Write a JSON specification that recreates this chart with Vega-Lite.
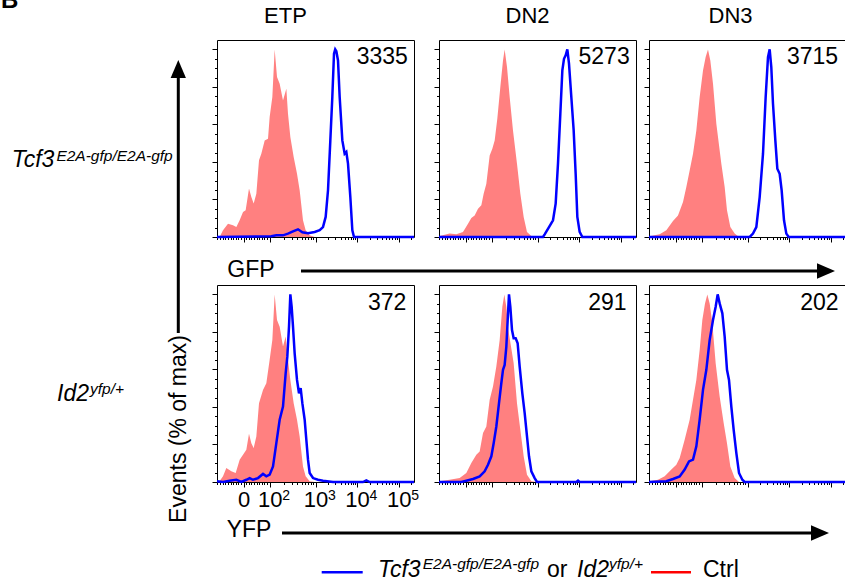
{
"$schema": "https://vega.github.io/schema/vega-lite/v6.json",
"background": "white",
"padding": 0,
"autosize": {"type": "pad"},
"config": {"font": "Liberation Sans", "view": {"stroke": "#000", "strokeWidth": 1}, "text": {"color": "#000"}, "axis": {"domain": false, "grid": false, "title": null, "tickColor": "#000", "tickWidth": 1, "labelColor": "#000"}},
"datasets": {
"labels": [{"p":"t1","label":"3335"},{"p":"t2","label":"5273"},{"p":"t3","label":"3715"},{"p":"b1","label":"372"},{"p":"b2","label":"291"},{"p":"b3","label":"202"}],
"hist": [
{"p":"t1","s":"c","x":13.5,"y":0},{"p":"t1","s":"c","x":30.5,"y":3.6},{"p":"t1","s":"c","x":55.8,"y":7.1},{"p":"t1","s":"c","x":81.2,"y":6.2},{"p":"t1","s":"c","x":98.1,"y":5.3},{"p":"t1","s":"c","x":115,"y":8.9},{"p":"t1","s":"c","x":132,"y":13.3},{"p":"t1","s":"c","x":145.5,"y":14.2},{"p":"t1","s":"c","x":162.4,"y":25.8},{"p":"t1","s":"c","x":174.3,"y":21.3},{"p":"t1","s":"c","x":186.1,"y":17.8},{"p":"t1","s":"c","x":199.7,"y":23.1},{"p":"t1","s":"c","x":213.2,"y":40.9},{"p":"t1","s":"c","x":225,"y":44.4},{"p":"t1","s":"c","x":242,"y":51.5},{"p":"t1","s":"c","x":258.9,"y":52.4},{"p":"t1","s":"c","x":267.3,"y":63.9},{"p":"t1","s":"c","x":280.9,"y":74.6},{"p":"t1","s":"c","x":292.7,"y":100},{"p":"t1","s":"c","x":304.6,"y":85.3},{"p":"t1","s":"c","x":318.1,"y":81.7},{"p":"t1","s":"c","x":335,"y":72.8},{"p":"t1","s":"c","x":352,"y":79},{"p":"t1","s":"c","x":360.4,"y":65.7},{"p":"t1","s":"c","x":372.3,"y":53.3},{"p":"t1","s":"c","x":389.2,"y":42.6},{"p":"t1","s":"c","x":406.1,"y":33.7},{"p":"t1","s":"c","x":419.6,"y":24.9},{"p":"t1","s":"c","x":436.5,"y":8.9},{"p":"t1","s":"c","x":450,"y":3.6},{"p":"t1","s":"c","x":470.4,"y":0.9},{"p":"t1","s":"c","x":495.8,"y":0},
{"p":"t1","s":"k","x":0,"y":0},{"p":"t1","s":"k","x":275.8,"y":0.4},{"p":"t1","s":"k","x":301.2,"y":0.9},{"p":"t1","s":"k","x":335,"y":0.9},{"p":"t1","s":"k","x":360.4,"y":1.8},{"p":"t1","s":"k","x":385.8,"y":3.0},{"p":"t1","s":"k","x":411.2,"y":4.1},{"p":"t1","s":"k","x":433.2,"y":2.5},{"p":"t1","s":"k","x":462,"y":2.0},{"p":"t1","s":"k","x":495.8,"y":2.7},{"p":"t1","s":"k","x":521.2,"y":3.6},{"p":"t1","s":"k","x":538,"y":5.3},{"p":"t1","s":"k","x":551.6,"y":10.7},{"p":"t1","s":"k","x":563.5,"y":24.9},{"p":"t1","s":"k","x":575.3,"y":51.5},{"p":"t1","s":"k","x":585.4,"y":74.6},{"p":"t1","s":"k","x":593.9,"y":97.7},{"p":"t1","s":"k","x":600,"y":100},{"p":"t1","s":"k","x":605.8,"y":99},{"p":"t1","s":"k","x":614.2,"y":94.1},{"p":"t1","s":"k","x":622.7,"y":74.6},{"p":"t1","s":"k","x":636.2,"y":51.5},{"p":"t1","s":"k","x":648,"y":44.4},{"p":"t1","s":"k","x":656.5,"y":45.3},{"p":"t1","s":"k","x":665,"y":39.1},{"p":"t1","s":"k","x":676.8,"y":21.3},{"p":"t1","s":"k","x":687,"y":3.6},{"p":"t1","s":"k","x":695.4,"y":0},{"p":"t1","s":"k","x":1000,"y":0},
{"p":"t2","s":"c","x":0,"y":0},{"p":"t2","s":"c","x":3.4,"y":0.5},{"p":"t2","s":"c","x":54.1,"y":1.8},{"p":"t2","s":"c","x":88,"y":1.4},{"p":"t2","s":"c","x":121.8,"y":2.7},{"p":"t2","s":"c","x":147.2,"y":7.1},{"p":"t2","s":"c","x":164.1,"y":10.1},{"p":"t2","s":"c","x":181,"y":11.5},{"p":"t2","s":"c","x":198,"y":15.1},{"p":"t2","s":"c","x":214.9,"y":16.9},{"p":"t2","s":"c","x":226.7,"y":23.1},{"p":"t2","s":"c","x":240.3,"y":28.4},{"p":"t2","s":"c","x":257.2,"y":43.5},{"p":"t2","s":"c","x":270.7,"y":47.1},{"p":"t2","s":"c","x":282.6,"y":51.5},{"p":"t2","s":"c","x":296.1,"y":63.1},{"p":"t2","s":"c","x":311.3,"y":79.9},{"p":"t2","s":"c","x":324.9,"y":94.1},{"p":"t2","s":"c","x":333.3,"y":100},{"p":"t2","s":"c","x":345.2,"y":90.6},{"p":"t2","s":"c","x":358.7,"y":74.6},{"p":"t2","s":"c","x":375.6,"y":56.8},{"p":"t2","s":"c","x":395.9,"y":39.1},{"p":"t2","s":"c","x":412.9,"y":23.1},{"p":"t2","s":"c","x":429.8,"y":10.7},{"p":"t2","s":"c","x":446.7,"y":2.7},{"p":"t2","s":"c","x":468.7,"y":0.5},{"p":"t2","s":"c","x":494.1,"y":0},
{"p":"t2","s":"k","x":0,"y":0},{"p":"t2","s":"k","x":527.9,"y":0},{"p":"t2","s":"k","x":536.4,"y":1.4},{"p":"t2","s":"k","x":558.4,"y":5.3},{"p":"t2","s":"k","x":578.7,"y":8.9},{"p":"t2","s":"k","x":592.2,"y":17.8},{"p":"t2","s":"k","x":604,"y":39.1},{"p":"t2","s":"k","x":615.9,"y":65.7},{"p":"t2","s":"k","x":626.1,"y":88.8},{"p":"t2","s":"k","x":634.5,"y":95},{"p":"t2","s":"k","x":643,"y":96.8},{"p":"t2","s":"k","x":651.4,"y":100},{"p":"t2","s":"k","x":659.9,"y":92.4},{"p":"t2","s":"k","x":671.7,"y":74.6},{"p":"t2","s":"k","x":683.6,"y":56.8},{"p":"t2","s":"k","x":693.7,"y":33.7},{"p":"t2","s":"k","x":702.2,"y":10.7},{"p":"t2","s":"k","x":714,"y":2.7},{"p":"t2","s":"k","x":727.6,"y":0},{"p":"t2","s":"k","x":1000,"y":0},
{"p":"t3","s":"c","x":0,"y":0},{"p":"t3","s":"c","x":3.4,"y":0.4},{"p":"t3","s":"c","x":54.1,"y":1.4},{"p":"t3","s":"c","x":88,"y":3.6},{"p":"t3","s":"c","x":121.8,"y":8.5},{"p":"t3","s":"c","x":147.2,"y":11.5},{"p":"t3","s":"c","x":172.6,"y":18.7},{"p":"t3","s":"c","x":189.5,"y":26.6},{"p":"t3","s":"c","x":206.4,"y":35.5},{"p":"t3","s":"c","x":223.4,"y":44.4},{"p":"t3","s":"c","x":240.3,"y":56.8},{"p":"t3","s":"c","x":257.2,"y":74.6},{"p":"t3","s":"c","x":274.1,"y":88.8},{"p":"t3","s":"c","x":287.6,"y":95.9},{"p":"t3","s":"c","x":299.5,"y":100},{"p":"t3","s":"c","x":311.3,"y":94.1},{"p":"t3","s":"c","x":324.9,"y":81.7},{"p":"t3","s":"c","x":341.8,"y":60.4},{"p":"t3","s":"c","x":367.2,"y":39.1},{"p":"t3","s":"c","x":384.1,"y":26.6},{"p":"t3","s":"c","x":395.9,"y":14.2},{"p":"t3","s":"c","x":412.9,"y":5.3},{"p":"t3","s":"c","x":434.9,"y":1.8},{"p":"t3","s":"c","x":456.9,"y":0},
{"p":"t3","s":"k","x":0,"y":0},{"p":"t3","s":"k","x":511,"y":0},{"p":"t3","s":"k","x":527.9,"y":1.8},{"p":"t3","s":"k","x":544.8,"y":5.3},{"p":"t3","s":"k","x":561.8,"y":21.3},{"p":"t3","s":"k","x":578.7,"y":44.4},{"p":"t3","s":"k","x":592.2,"y":74.6},{"p":"t3","s":"k","x":604,"y":95.9},{"p":"t3","s":"k","x":612.5,"y":100},{"p":"t3","s":"k","x":620.8,"y":90.6},{"p":"t3","s":"k","x":629.4,"y":71},{"p":"t3","s":"k","x":641.3,"y":51.5},{"p":"t3","s":"k","x":651.4,"y":36.4},{"p":"t3","s":"k","x":663.3,"y":33.7},{"p":"t3","s":"k","x":673.4,"y":24.9},{"p":"t3","s":"k","x":685.3,"y":8.9},{"p":"t3","s":"k","x":697.1,"y":1.8},{"p":"t3","s":"k","x":709,"y":0},{"p":"t3","s":"k","x":1000,"y":0},
{"p":"b1","s":"c","x":0,"y":0},{"p":"b1","s":"c","x":10.2,"y":0},{"p":"b1","s":"c","x":30.5,"y":3},{"p":"b1","s":"c","x":47.4,"y":7.4},{"p":"b1","s":"c","x":72.8,"y":5.7},{"p":"b1","s":"c","x":94.8,"y":4.8},{"p":"b1","s":"c","x":115.1,"y":11.9},{"p":"b1","s":"c","x":132,"y":14.5},{"p":"b1","s":"c","x":148.9,"y":17.2},{"p":"b1","s":"c","x":162.4,"y":25.7},{"p":"b1","s":"c","x":174.3,"y":20.7},{"p":"b1","s":"c","x":186.1,"y":18.1},{"p":"b1","s":"c","x":199.7,"y":24.3},{"p":"b1","s":"c","x":213.2,"y":42},{"p":"b1","s":"c","x":233.5,"y":49.1},{"p":"b1","s":"c","x":250.4,"y":52.7},{"p":"b1","s":"c","x":267.3,"y":65.1},{"p":"b1","s":"c","x":280.9,"y":75.7},{"p":"b1","s":"c","x":292.7,"y":100},{"p":"b1","s":"c","x":304.6,"y":86.3},{"p":"b1","s":"c","x":318.1,"y":82.8},{"p":"b1","s":"c","x":335,"y":72.2},{"p":"b1","s":"c","x":348.6,"y":77.5},{"p":"b1","s":"c","x":360.4,"y":65.1},{"p":"b1","s":"c","x":372.3,"y":54.4},{"p":"b1","s":"c","x":389.2,"y":42},{"p":"b1","s":"c","x":406.1,"y":33.2},{"p":"b1","s":"c","x":419.6,"y":24.3},{"p":"b1","s":"c","x":436.5,"y":8.3},{"p":"b1","s":"c","x":450,"y":3},{"p":"b1","s":"c","x":470.4,"y":0.4},{"p":"b1","s":"c","x":495.8,"y":0},
{"p":"b1","s":"k","x":0,"y":0.4},{"p":"b1","s":"k","x":30.5,"y":0},{"p":"b1","s":"k","x":64.3,"y":0.7},{"p":"b1","s":"k","x":98.1,"y":1.2},{"p":"b1","s":"k","x":123.5,"y":0},{"p":"b1","s":"k","x":148.9,"y":1.2},{"p":"b1","s":"k","x":165.8,"y":2.1},{"p":"b1","s":"k","x":182.7,"y":1.2},{"p":"b1","s":"k","x":208.1,"y":2.1},{"p":"b1","s":"k","x":233.5,"y":4.3},{"p":"b1","s":"k","x":250.4,"y":3},{"p":"b1","s":"k","x":267.3,"y":3.9},{"p":"b1","s":"k","x":284.3,"y":8.3},{"p":"b1","s":"k","x":301.2,"y":20.7},{"p":"b1","s":"k","x":318.1,"y":33.2},{"p":"b1","s":"k","x":335,"y":40.2},{"p":"b1","s":"k","x":348.6,"y":58},{"p":"b1","s":"k","x":357,"y":66.8},{"p":"b1","s":"k","x":365.5,"y":82.8},{"p":"b1","s":"k","x":372.3,"y":100},{"p":"b1","s":"k","x":379,"y":93.4},{"p":"b1","s":"k","x":385.8,"y":82.8},{"p":"b1","s":"k","x":394.2,"y":68.6},{"p":"b1","s":"k","x":406.1,"y":54.4},{"p":"b1","s":"k","x":416.2,"y":47.3},{"p":"b1","s":"k","x":424.7,"y":50},{"p":"b1","s":"k","x":433.2,"y":42},{"p":"b1","s":"k","x":445,"y":33.2},{"p":"b1","s":"k","x":453.5,"y":22.5},{"p":"b1","s":"k","x":461.9,"y":11.9},{"p":"b1","s":"k","x":470.4,"y":4.8},{"p":"b1","s":"k","x":487.3,"y":2.1},{"p":"b1","s":"k","x":512.7,"y":1.2},{"p":"b1","s":"k","x":538.1,"y":0.7},{"p":"b1","s":"k","x":588.8,"y":0},{"p":"b1","s":"k","x":741.1,"y":0},{"p":"b1","s":"k","x":758,"y":0.9},{"p":"b1","s":"k","x":775,"y":0},{"p":"b1","s":"k","x":1000,"y":0},
{"p":"b2","s":"c","x":0,"y":0},{"p":"b2","s":"c","x":3.4,"y":0.4},{"p":"b2","s":"c","x":54.1,"y":1.2},{"p":"b2","s":"c","x":104.9,"y":2.1},{"p":"b2","s":"c","x":138.7,"y":4.8},{"p":"b2","s":"c","x":164.1,"y":10.1},{"p":"b2","s":"c","x":189.5,"y":14.5},{"p":"b2","s":"c","x":206.4,"y":16.3},{"p":"b2","s":"c","x":223.4,"y":26.1},{"p":"b2","s":"c","x":240.3,"y":29.6},{"p":"b2","s":"c","x":257.2,"y":43.8},{"p":"b2","s":"c","x":274.1,"y":50.9},{"p":"b2","s":"c","x":291,"y":61.5},{"p":"b2","s":"c","x":308,"y":75.7},{"p":"b2","s":"c","x":321.5,"y":93.4},{"p":"b2","s":"c","x":331.6,"y":100},{"p":"b2","s":"c","x":341.8,"y":93.4},{"p":"b2","s":"c","x":351.9,"y":81},{"p":"b2","s":"c","x":365.5,"y":72.2},{"p":"b2","s":"c","x":379,"y":63.3},{"p":"b2","s":"c","x":395.9,"y":42},{"p":"b2","s":"c","x":412.9,"y":27.8},{"p":"b2","s":"c","x":429.8,"y":13.7},{"p":"b2","s":"c","x":446.7,"y":3.9},{"p":"b2","s":"c","x":468.7,"y":0.4},{"p":"b2","s":"c","x":494.1,"y":0},
{"p":"b2","s":"k","x":0,"y":0},{"p":"b2","s":"k","x":113.4,"y":0},{"p":"b2","s":"k","x":138.7,"y":0.7},{"p":"b2","s":"k","x":172.6,"y":1.6},{"p":"b2","s":"k","x":206.4,"y":3},{"p":"b2","s":"k","x":231.8,"y":5.7},{"p":"b2","s":"k","x":248.7,"y":9.2},{"p":"b2","s":"k","x":265.7,"y":13.7},{"p":"b2","s":"k","x":277.5,"y":20.7},{"p":"b2","s":"k","x":291,"y":29.6},{"p":"b2","s":"k","x":304.6,"y":42},{"p":"b2","s":"k","x":316.4,"y":52.7},{"p":"b2","s":"k","x":324.9,"y":59.8},{"p":"b2","s":"k","x":333.3,"y":62.4},{"p":"b2","s":"k","x":341.8,"y":72.2},{"p":"b2","s":"k","x":348.6,"y":86.3},{"p":"b2","s":"k","x":355.3,"y":100},{"p":"b2","s":"k","x":362.1,"y":93.4},{"p":"b2","s":"k","x":370.6,"y":81},{"p":"b2","s":"k","x":379,"y":76.6},{"p":"b2","s":"k","x":389.2,"y":76.6},{"p":"b2","s":"k","x":399.3,"y":73.9},{"p":"b2","s":"k","x":409.5,"y":61.5},{"p":"b2","s":"k","x":423,"y":47.3},{"p":"b2","s":"k","x":434.9,"y":36.7},{"p":"b2","s":"k","x":446.7,"y":24.3},{"p":"b2","s":"k","x":456.9,"y":13.7},{"p":"b2","s":"k","x":468.7,"y":5.7},{"p":"b2","s":"k","x":485.6,"y":2.1},{"p":"b2","s":"k","x":497.5,"y":0},{"p":"b2","s":"k","x":697.1,"y":0},{"p":"b2","s":"k","x":705.6,"y":0.7},{"p":"b2","s":"k","x":714,"y":0},{"p":"b2","s":"k","x":1000,"y":0},
{"p":"b3","s":"c","x":0,"y":0},{"p":"b3","s":"c","x":3.4,"y":0.4},{"p":"b3","s":"c","x":45.7,"y":1.2},{"p":"b3","s":"c","x":79.5,"y":3},{"p":"b3","s":"c","x":113.4,"y":6.6},{"p":"b3","s":"c","x":138.7,"y":9.2},{"p":"b3","s":"c","x":155.7,"y":12.8},{"p":"b3","s":"c","x":181,"y":22.5},{"p":"b3","s":"c","x":206.4,"y":33.2},{"p":"b3","s":"c","x":223.4,"y":43.8},{"p":"b3","s":"c","x":240.3,"y":54.4},{"p":"b3","s":"c","x":257.2,"y":70.4},{"p":"b3","s":"c","x":270.7,"y":86.3},{"p":"b3","s":"c","x":284.3,"y":95.2},{"p":"b3","s":"c","x":296.1,"y":100},{"p":"b3","s":"c","x":308,"y":95.2},{"p":"b3","s":"c","x":321.5,"y":84.6},{"p":"b3","s":"c","x":338.4,"y":63.3},{"p":"b3","s":"c","x":358.7,"y":45.6},{"p":"b3","s":"c","x":379,"y":31.4},{"p":"b3","s":"c","x":395.9,"y":20.7},{"p":"b3","s":"c","x":412.9,"y":8.3},{"p":"b3","s":"c","x":434.9,"y":2.1},{"p":"b3","s":"c","x":456.9,"y":0},
{"p":"b3","s":"k","x":0,"y":0},{"p":"b3","s":"k","x":88,"y":0.4},{"p":"b3","s":"k","x":121.8,"y":1.6},{"p":"b3","s":"k","x":155.7,"y":3},{"p":"b3","s":"k","x":181,"y":6.6},{"p":"b3","s":"k","x":203,"y":11},{"p":"b3","s":"k","x":223.4,"y":11.9},{"p":"b3","s":"k","x":240.3,"y":19},{"p":"b3","s":"k","x":257.2,"y":33.2},{"p":"b3","s":"k","x":274.1,"y":49.1},{"p":"b3","s":"k","x":291,"y":59.8},{"p":"b3","s":"k","x":308,"y":75.7},{"p":"b3","s":"k","x":324.9,"y":86.3},{"p":"b3","s":"k","x":338.4,"y":93.4},{"p":"b3","s":"k","x":348.6,"y":100},{"p":"b3","s":"k","x":358.7,"y":95.2},{"p":"b3","s":"k","x":372.3,"y":89.9},{"p":"b3","s":"k","x":384.1,"y":77.5},{"p":"b3","s":"k","x":395.9,"y":59.8},{"p":"b3","s":"k","x":406.1,"y":54.4},{"p":"b3","s":"k","x":417.9,"y":40.2},{"p":"b3","s":"k","x":429.8,"y":27.8},{"p":"b3","s":"k","x":443.4,"y":15.4},{"p":"b3","s":"k","x":456.9,"y":4.8},{"p":"b3","s":"k","x":473.8,"y":1.2},{"p":"b3","s":"k","x":485.6,"y":0},{"p":"b3","s":"k","x":1000,"y":0}
]},
"hconcat": [
{
"width": 200, "height": 583,
"view": {"stroke": null, "fill": "white"},
"data": {"values": [{}]},
"layer": [
{"mark": {"type": "text", "text": "B", "fontSize": 24, "fontWeight": "bold", "align": "left", "baseline": "alphabetic", "clip": true}, "encoding": {"x": {"datum": 1, "type": "quantitative", "scale": {"domain": [0, 200], "nice": false, "zero": false}, "axis": null}, "y": {"datum": 8, "type": "quantitative", "scale": {"domain": [0, 583], "nice": false, "zero": false, "reverse": true}, "axis": null}}},
{"mark": {"type": "text", "text": "Tcf3", "fontSize": 23, "fontStyle": "italic", "align": "left", "baseline": "alphabetic"}, "encoding": {"x": {"datum": 11.7, "type": "quantitative", "axis": null}, "y": {"datum": 167.3, "type": "quantitative", "axis": null}}},
{"mark": {"type": "text", "text": "E2A-gfp/E2A-gfp", "fontSize": 15.5, "fontStyle": "italic", "align": "left", "baseline": "alphabetic"}, "encoding": {"x": {"datum": 56.4, "type": "quantitative", "axis": null}, "y": {"datum": 160.5, "type": "quantitative", "axis": null}}},
{"mark": {"type": "text", "text": "Id2", "fontSize": 23, "fontStyle": "italic", "align": "left", "baseline": "alphabetic"}, "encoding": {"x": {"datum": 57, "type": "quantitative", "axis": null}, "y": {"datum": 400.7, "type": "quantitative", "axis": null}}},
{"mark": {"type": "text", "text": "yfp/+", "fontSize": 15.5, "fontStyle": "italic", "align": "left", "baseline": "alphabetic"}, "encoding": {"x": {"datum": 90, "type": "quantitative", "axis": null}, "y": {"datum": 394, "type": "quantitative", "axis": null}}},
{"mark": {"type": "rule", "color": "#000", "strokeWidth": 3}, "encoding": {"x": {"datum": 178.3, "type": "quantitative", "axis": null}, "y": {"datum": 76, "type": "quantitative", "axis": null}, "y2": {"datum": 333}}},
{"mark": {"type": "point", "shape": "M-0.85,1L0,-1L0.85,1Z", "size": 324, "filled": true, "color": "#000", "opacity": 1}, "encoding": {"x": {"datum": 178.3, "type": "quantitative", "axis": null}, "y": {"datum": 69, "type": "quantitative", "axis": null}}},
{"mark": {"type": "text", "text": "Events (% of max)", "fontSize": 23, "angle": 270, "align": "center", "baseline": "middle"}, "encoding": {"x": {"datum": 178.5, "type": "quantitative", "axis": null}, "y": {"datum": 429, "type": "quantitative", "axis": null}}},
{"mark": {"type": "text", "text": "GFP", "fontSize": 23, "align": "center", "baseline": "alphabetic"}, "encoding": {"x": {"datum": 251, "type": "quantitative", "axis": null}, "y": {"datum": 277, "type": "quantitative", "axis": null}}},
{"mark": {"type": "rule", "color": "#000", "strokeWidth": 3}, "encoding": {"x": {"datum": 301, "type": "quantitative", "axis": null}, "x2": {"datum": 820}, "y": {"datum": 271, "type": "quantitative", "axis": null}}},
{"mark": {"type": "point", "shape": "M-1,-0.85L1,0L-1,0.85Z", "size": 324, "filled": true, "color": "#000", "opacity": 1}, "encoding": {"x": {"datum": 826, "type": "quantitative", "axis": null}, "y": {"datum": 271, "type": "quantitative", "axis": null}}},
{"mark": {"type": "text", "text": "YFP", "fontSize": 23, "align": "center", "baseline": "alphabetic"}, "encoding": {"x": {"datum": 249, "type": "quantitative", "axis": null}, "y": {"datum": 537, "type": "quantitative", "axis": null}}},
{"mark": {"type": "rule", "color": "#000", "strokeWidth": 3}, "encoding": {"x": {"datum": 282, "type": "quantitative", "axis": null}, "x2": {"datum": 813}, "y": {"datum": 533, "type": "quantitative", "axis": null}}},
{"mark": {"type": "point", "shape": "M-1,-0.85L1,0L-1,0.85Z", "size": 324, "filled": true, "color": "#000", "opacity": 1}, "encoding": {"x": {"datum": 820, "type": "quantitative", "axis": null}, "y": {"datum": 533, "type": "quantitative", "axis": null}}},
{"mark": {"type": "rule", "color": "#0000ff", "strokeWidth": 2.5}, "encoding": {"x": {"datum": 321.7, "type": "quantitative", "axis": null}, "x2": {"datum": 362.7}, "y": {"datum": 572.3, "type": "quantitative", "axis": null}}},
{"mark": {"type": "text", "text": "Tcf3", "fontSize": 23, "fontStyle": "italic", "align": "left", "baseline": "alphabetic"}, "encoding": {"x": {"datum": 378, "type": "quantitative", "axis": null}, "y": {"datum": 576.7, "type": "quantitative", "axis": null}}},
{"mark": {"type": "text", "text": "E2A-gfp/E2A-gfp", "fontSize": 15.5, "fontStyle": "italic", "align": "left", "baseline": "alphabetic"}, "encoding": {"x": {"datum": 422.7, "type": "quantitative", "axis": null}, "y": {"datum": 568.5, "type": "quantitative", "axis": null}}},
{"mark": {"type": "text", "text": "or", "fontSize": 23, "align": "left", "baseline": "alphabetic"}, "encoding": {"x": {"datum": 547, "type": "quantitative", "axis": null}, "y": {"datum": 576.7, "type": "quantitative", "axis": null}}},
{"mark": {"type": "text", "text": "Id2", "fontSize": 23, "fontStyle": "italic", "align": "left", "baseline": "alphabetic"}, "encoding": {"x": {"datum": 577, "type": "quantitative", "axis": null}, "y": {"datum": 576.7, "type": "quantitative", "axis": null}}},
{"mark": {"type": "text", "text": "yfp/+", "fontSize": 15.5, "fontStyle": "italic", "align": "left", "baseline": "alphabetic"}, "encoding": {"x": {"datum": 609, "type": "quantitative", "axis": null}, "y": {"datum": 568.5, "type": "quantitative", "axis": null}}},
{"mark": {"type": "rule", "color": "#ff0000", "strokeWidth": 2.5}, "encoding": {"x": {"datum": 651, "type": "quantitative", "axis": null}, "x2": {"datum": 691}, "y": {"datum": 572.3, "type": "quantitative", "axis": null}}},
{"mark": {"type": "text", "text": "Ctrl", "fontSize": 23, "align": "left", "baseline": "alphabetic"}, "encoding": {"x": {"datum": 703, "type": "quantitative", "axis": null}, "y": {"datum": 576.7, "type": "quantitative", "axis": null}}}
]
},
{
"columns": 5, "spacing": 0, "bounds": "flush",
"concat": [
{"width": 197, "height": 40, "data": {"values": [{}]}, "mark": {"type": "text", "text": "ETP", "fontSize": 22, "align": "center", "baseline": "alphabetic", "dx": -30, "dy": 3}, "view": {"stroke": null}},
{"width": 25, "height": 40, "data": {"values": [{}]}, "mark": {"type": "point", "opacity": 0}, "view": {"stroke": null}},
{"width": 197, "height": 40, "data": {"values": [{}]}, "mark": {"type": "text", "text": "DN2", "fontSize": 22, "align": "center", "baseline": "alphabetic", "dx": -10, "dy": 3}, "view": {"stroke": null}},
{"width": 13, "height": 40, "data": {"values": [{}]}, "mark": {"type": "point", "opacity": 0}, "view": {"stroke": null}},
{"width": 197, "height": 40, "data": {"values": [{}]}, "mark": {"type": "text", "text": "DN3", "fontSize": 22, "align": "center", "baseline": "alphabetic", "dx": -17, "dy": 3}, "view": {"stroke": null}},

{"width": 197, "height": 197, "data": {"name": "hist"}, "resolve": {"axis": {"x": "independent", "y": "independent"}},
 "layer": [
 {"transform": [{"filter": "datum.p=='t1' && datum.s=='c'"}], "mark": {"type": "area", "color": "#ff8080"}, "encoding": {"x": {"field": "x", "type": "quantitative", "scale": {"domain": [0, 1000], "nice": false, "zero": false}, "axis": {"orient": "bottom", "values": [2,15,29,42,55,69,82,95,108,122,148,162,175,188,202,215,228,241,255,338,379,408,430,449,464,478,489,564,601,627,648,664,678,691,701,775,812,838,859,875,889,902,912,986], "labels": false, "tickSize": 2.5}}, "y": {"field": "y", "type": "quantitative", "scale": {"domain": [0, 105], "nice": false}, "axis": {"orient": "left", "values": [5,10,15,25,30,35,45,50,55,65,70,75,85,90,95], "labels": false, "tickSize": 2.5}}}},
 {"transform": [{"filter": "datum.p=='t1' && datum.s=='k'"}], "mark": {"type": "line", "color": "#0000ff", "strokeWidth": 2.5}, "encoding": {"x": {"field": "x", "type": "quantitative", "axis": {"orient": "bottom", "values": [135,268,500,711,922], "labels": false, "tickSize": 5}}, "y": {"field": "y", "type": "quantitative", "axis": {"orient": "left", "values": [0,20,40,60,80,100], "labels": false, "tickSize": 5}}}},
 {"data": {"name": "labels"}, "transform": [{"filter": "datum.p=='t1'"}], "mark": {"type": "text", "fontSize": 23, "align": "center", "baseline": "alphabetic"}, "encoding": {"x": {"datum": 838.6, "type": "quantitative", "axis": null}, "y": {"datum": 92.2, "type": "quantitative", "axis": null}, "text": {"field": "label"}}}
 ]},
{"width": 25, "height": 197, "data": {"values": [{}]}, "mark": {"type": "point", "opacity": 0}, "view": {"stroke": null}},
{"width": 197, "height": 197, "data": {"name": "hist"}, "resolve": {"axis": {"x": "independent", "y": "independent"}},
 "layer": [
 {"transform": [{"filter": "datum.p=='t2' && datum.s=='c'"}], "mark": {"type": "area", "color": "#ff8080"}, "encoding": {"x": {"field": "x", "type": "quantitative", "scale": {"domain": [0, 1000], "nice": false, "zero": false}, "axis": {"orient": "bottom", "values": [2,15,29,42,55,69,82,95,108,122,148,162,175,188,202,215,228,241,255,338,379,408,430,449,464,478,489,564,601,627,648,664,678,691,701,775,812,838,859,875,889,902,912,986], "labels": false, "tickSize": 2.5}}, "y": {"field": "y", "type": "quantitative", "scale": {"domain": [0, 105], "nice": false}, "axis": {"orient": "left", "values": [5,10,15,25,30,35,45,50,55,65,70,75,85,90,95], "labels": false, "tickSize": 2.5}}}},
 {"transform": [{"filter": "datum.p=='t2' && datum.s=='k'"}], "mark": {"type": "line", "color": "#0000ff", "strokeWidth": 2.5}, "encoding": {"x": {"field": "x", "type": "quantitative", "axis": {"orient": "bottom", "values": [135,268,500,711,922], "labels": false, "tickSize": 5}}, "y": {"field": "y", "type": "quantitative", "axis": {"orient": "left", "values": [0,20,40,60,80,100], "labels": false, "tickSize": 5}}}},
 {"data": {"name": "labels"}, "transform": [{"filter": "datum.p=='t2'"}], "mark": {"type": "text", "fontSize": 23, "align": "center", "baseline": "alphabetic"}, "encoding": {"x": {"datum": 838, "type": "quantitative", "axis": null}, "y": {"datum": 92.2, "type": "quantitative", "axis": null}, "text": {"field": "label"}}}
 ]},
{"width": 13, "height": 197, "data": {"values": [{}]}, "mark": {"type": "point", "opacity": 0}, "view": {"stroke": null}},
{"width": 197, "height": 197, "data": {"name": "hist"}, "resolve": {"axis": {"x": "independent", "y": "independent"}},
 "layer": [
 {"transform": [{"filter": "datum.p=='t3' && datum.s=='c'"}], "mark": {"type": "area", "color": "#ff8080"}, "encoding": {"x": {"field": "x", "type": "quantitative", "scale": {"domain": [0, 1000], "nice": false, "zero": false}, "axis": {"orient": "bottom", "values": [2,15,29,42,55,69,82,95,108,122,148,162,175,188,202,215,228,241,255,338,379,408,430,449,464,478,489,564,601,627,648,664,678,691,701,775,812,838,859,875,889,902,912,986], "labels": false, "tickSize": 2.5}}, "y": {"field": "y", "type": "quantitative", "scale": {"domain": [0, 105], "nice": false}, "axis": {"orient": "left", "values": [5,10,15,25,30,35,45,50,55,65,70,75,85,90,95], "labels": false, "tickSize": 2.5}}}},
 {"transform": [{"filter": "datum.p=='t3' && datum.s=='k'"}], "mark": {"type": "line", "color": "#0000ff", "strokeWidth": 2.5}, "encoding": {"x": {"field": "x", "type": "quantitative", "axis": {"orient": "bottom", "values": [135,268,500,711,922], "labels": false, "tickSize": 5}}, "y": {"field": "y", "type": "quantitative", "axis": {"orient": "left", "values": [0,20,40,60,80,100], "labels": false, "tickSize": 5}}}},
 {"data": {"name": "labels"}, "transform": [{"filter": "datum.p=='t3'"}], "mark": {"type": "text", "fontSize": 23, "align": "center", "baseline": "alphabetic"}, "encoding": {"x": {"datum": 830, "type": "quantitative", "axis": null}, "y": {"datum": 92.2, "type": "quantitative", "axis": null}, "text": {"field": "label"}}}
 ]},

{"width": 197, "height": 48, "data": {"values": [{}]}, "mark": {"type": "point", "opacity": 0}, "view": {"stroke": null}},
{"width": 25, "height": 48, "data": {"values": [{}]}, "mark": {"type": "point", "opacity": 0}, "view": {"stroke": null}},
{"width": 197, "height": 48, "data": {"values": [{}]}, "mark": {"type": "point", "opacity": 0}, "view": {"stroke": null}},
{"width": 13, "height": 48, "data": {"values": [{}]}, "mark": {"type": "point", "opacity": 0}, "view": {"stroke": null}},
{"width": 197, "height": 48, "data": {"values": [{}]}, "mark": {"type": "point", "opacity": 0}, "view": {"stroke": null}},

{"width": 197, "height": 197, "data": {"name": "hist"}, "resolve": {"axis": {"x": "independent", "y": "independent"}},
 "layer": [
 {"transform": [{"filter": "datum.p=='b1' && datum.s=='c'"}], "mark": {"type": "area", "color": "#ff8080"}, "encoding": {"x": {"field": "x", "type": "quantitative", "scale": {"domain": [0, 1000], "nice": false, "zero": false}, "axis": {"orient": "bottom", "values": [2,15,29,42,55,69,82,95,108,122,148,162,175,188,202,215,228,241,255,338,379,408,430,449,464,478,489,564,601,627,648,664,678,691,701,775,812,838,859,875,889,902,912,986], "labels": false, "tickSize": 2.5}}, "y": {"field": "y", "type": "quantitative", "scale": {"domain": [0, 105], "nice": false}, "axis": {"orient": "left", "values": [5,10,15,25,30,35,45,50,55,65,70,75,85,90,95], "labels": false, "tickSize": 2.5}}}},
 {"transform": [{"filter": "datum.p=='b1' && datum.s=='k'"}], "mark": {"type": "line", "color": "#0000ff", "strokeWidth": 2.5}, "encoding": {"x": {"field": "x", "type": "quantitative", "axis": {"orient": "bottom", "values": [135,268,500,711,922], "labels": true, "labelExpr": "datum.value==135?'0':'10'", "labelFontSize": 22, "labelPadding": 2, "labelOverlap": false, "labelFlush": false, "labelBound": false, "tickSize": 5}}, "y": {"field": "y", "type": "quantitative", "axis": {"orient": "left", "values": [0,20,40,60,80,100], "labels": false, "tickSize": 5}}}},
 {"data": {"name": "labels"}, "transform": [{"filter": "datum.p=='b1'"}], "mark": {"type": "text", "fontSize": 23, "align": "center", "baseline": "alphabetic"}, "encoding": {"x": {"datum": 864, "type": "quantitative", "axis": null}, "y": {"datum": 91.5, "type": "quantitative", "axis": null}, "text": {"field": "label"}}},
 {"data": {"values": [{}]}, "mark": {"type": "text", "text": "2", "fontSize": 14, "align": "left", "baseline": "alphabetic", "dx": 12.5}, "encoding": {"x": {"datum": 268, "type": "quantitative", "axis": null}, "y": {"datum": -9.4, "type": "quantitative", "axis": null}}},
 {"data": {"values": [{}]}, "mark": {"type": "text", "text": "3", "fontSize": 14, "align": "left", "baseline": "alphabetic", "dx": 12.5}, "encoding": {"x": {"datum": 500, "type": "quantitative", "axis": null}, "y": {"datum": -9.4, "type": "quantitative", "axis": null}}},
 {"data": {"values": [{}]}, "mark": {"type": "text", "text": "4", "fontSize": 14, "align": "left", "baseline": "alphabetic", "dx": 12.5}, "encoding": {"x": {"datum": 711, "type": "quantitative", "axis": null}, "y": {"datum": -9.4, "type": "quantitative", "axis": null}}},
 {"data": {"values": [{}]}, "mark": {"type": "text", "text": "5", "fontSize": 14, "align": "left", "baseline": "alphabetic", "dx": 12.5}, "encoding": {"x": {"datum": 922, "type": "quantitative", "axis": null}, "y": {"datum": -9.4, "type": "quantitative", "axis": null}}}
 ]},
{"width": 25, "height": 197, "data": {"values": [{}]}, "mark": {"type": "point", "opacity": 0}, "view": {"stroke": null}},
{"width": 197, "height": 197, "data": {"name": "hist"}, "resolve": {"axis": {"x": "independent", "y": "independent"}},
 "layer": [
 {"transform": [{"filter": "datum.p=='b2' && datum.s=='c'"}], "mark": {"type": "area", "color": "#ff8080"}, "encoding": {"x": {"field": "x", "type": "quantitative", "scale": {"domain": [0, 1000], "nice": false, "zero": false}, "axis": {"orient": "bottom", "values": [2,15,29,42,55,69,82,95,108,122,148,162,175,188,202,215,228,241,255,338,379,408,430,449,464,478,489,564,601,627,648,664,678,691,701,775,812,838,859,875,889,902,912,986], "labels": false, "tickSize": 2.5}}, "y": {"field": "y", "type": "quantitative", "scale": {"domain": [0, 105], "nice": false}, "axis": {"orient": "left", "values": [5,10,15,25,30,35,45,50,55,65,70,75,85,90,95], "labels": false, "tickSize": 2.5}}}},
 {"transform": [{"filter": "datum.p=='b2' && datum.s=='k'"}], "mark": {"type": "line", "color": "#0000ff", "strokeWidth": 2.5}, "encoding": {"x": {"field": "x", "type": "quantitative", "axis": {"orient": "bottom", "values": [135,268,500,711,922], "labels": false, "tickSize": 5}}, "y": {"field": "y", "type": "quantitative", "axis": {"orient": "left", "values": [0,20,40,60,80,100], "labels": false, "tickSize": 5}}}},
 {"data": {"name": "labels"}, "transform": [{"filter": "datum.p=='b2'"}], "mark": {"type": "text", "fontSize": 23, "align": "center", "baseline": "alphabetic"}, "encoding": {"x": {"datum": 855, "type": "quantitative", "axis": null}, "y": {"datum": 91.5, "type": "quantitative", "axis": null}, "text": {"field": "label"}}}
 ]},
{"width": 13, "height": 197, "data": {"values": [{}]}, "mark": {"type": "point", "opacity": 0}, "view": {"stroke": null}},
{"width": 197, "height": 197, "data": {"name": "hist"}, "resolve": {"axis": {"x": "independent", "y": "independent"}},
 "layer": [
 {"transform": [{"filter": "datum.p=='b3' && datum.s=='c'"}], "mark": {"type": "area", "color": "#ff8080"}, "encoding": {"x": {"field": "x", "type": "quantitative", "scale": {"domain": [0, 1000], "nice": false, "zero": false}, "axis": {"orient": "bottom", "values": [2,15,29,42,55,69,82,95,108,122,148,162,175,188,202,215,228,241,255,338,379,408,430,449,464,478,489,564,601,627,648,664,678,691,701,775,812,838,859,875,889,902,912,986], "labels": false, "tickSize": 2.5}}, "y": {"field": "y", "type": "quantitative", "scale": {"domain": [0, 105], "nice": false}, "axis": {"orient": "left", "values": [5,10,15,25,30,35,45,50,55,65,70,75,85,90,95], "labels": false, "tickSize": 2.5}}}},
 {"transform": [{"filter": "datum.p=='b3' && datum.s=='k'"}], "mark": {"type": "line", "color": "#0000ff", "strokeWidth": 2.5}, "encoding": {"x": {"field": "x", "type": "quantitative", "axis": {"orient": "bottom", "values": [135,268,500,711,922], "labels": false, "tickSize": 5}}, "y": {"field": "y", "type": "quantitative", "axis": {"orient": "left", "values": [0,20,40,60,80,100], "labels": false, "tickSize": 5}}}},
 {"data": {"name": "labels"}, "transform": [{"filter": "datum.p=='b3'"}], "mark": {"type": "text", "fontSize": 23, "align": "center", "baseline": "alphabetic"}, "encoding": {"x": {"datum": 865, "type": "quantitative", "axis": null}, "y": {"datum": 91.5, "type": "quantitative", "axis": null}, "text": {"field": "label"}}}
 ]}
]
}
],
"spacing": 17,
"bounds": "flush"
}
